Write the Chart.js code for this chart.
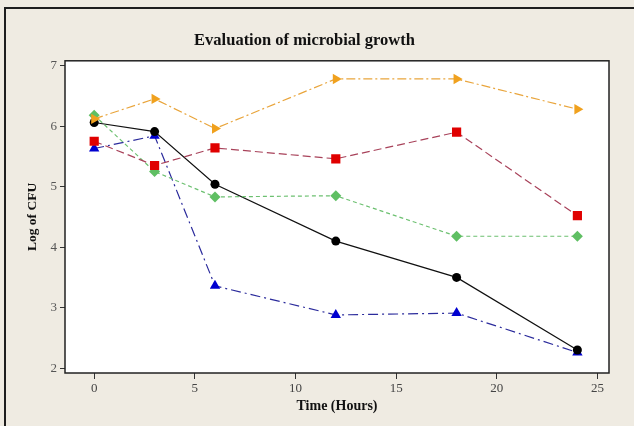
<!DOCTYPE html>
<html>
<head>
<meta charset="utf-8">
<script src="https://cdn.jsdelivr.net/npm/chart.js@4/dist/chart.umd.min.js"></script>
<style>
  body { margin: 0; background: #efebe2; overflow: hidden; }
  #wrap { position: relative; width: 634px; height: 426px; }
  #frame {
    position: absolute; left: 4px; top: 7px; width: 630px; height: 419px;
    border-top: 2px solid #1e1e1e; border-left: 2px solid #1e1e1e;
    box-sizing: border-box; pointer-events: none;
  }
</style>
</head>
<body>
<div id="wrap">
  <canvas id="growthChart" width="634" height="426"></canvas>
  <div id="frame"></div>
</div>
<script>
// sampling times (hours)
const hours = [0, 3, 6, 12, 18, 24];

// log CFU per sample
const seriesBlack = [6.06, 5.91, 5.04, 4.10, 3.50, 2.30];
const seriesOrange = [6.12, 6.45, 5.96, 6.78, 6.78, 6.28];
const seriesRed = [5.75, 5.35, 5.64, 5.46, 5.90, 4.52];
const seriesGreen = [6.18, 5.25, 4.83, 4.85, 4.18, 4.18];
const seriesBlue = [5.63, 5.84, 3.36, 2.88, 2.91, 2.26];

const xTicks = [0, 5, 10, 15, 20, 25];
const yTicks = [2, 3, 4, 5, 6, 7];

function toPoints(values) {
  return values.map((v, i) => ({ x: hours[i], y: v }));
}

// white plot area with a black frame
const plotFrame = {
  id: "plotFrame",
  beforeDatasetsDraw(chart) {
    const { ctx, chartArea: a } = chart;
    ctx.save();
    ctx.fillStyle = "#ffffff";
    ctx.fillRect(a.left, a.top, a.right - a.left, a.bottom - a.top);
    ctx.restore();
  },
  afterDatasetsDraw(chart) {
    const { ctx, chartArea: a } = chart;
    ctx.save();
    ctx.strokeStyle = "#222";
    ctx.lineWidth = 1.5;
    ctx.strokeRect(a.left, a.top, a.right - a.left, a.bottom - a.top);
    ctx.restore();
  },
};

const serif = "'Liberation Serif', 'Times New Roman', serif";

new Chart(document.getElementById("growthChart").getContext("2d"), {
  type: "line",
  data: {
    datasets: [
      {
        data: toPoints(seriesOrange),
        borderColor: "#e9a53c",
        backgroundColor: "#f0a11e",
        borderWidth: 1.2,
        borderDash: [9, 3, 2, 3],
        pointStyle: "triangle",
        rotation: 90,
        pointRadius: 6,
        pointBorderWidth: 0,
      },
      {
        data: toPoints(seriesRed),
        borderColor: "#a8425a",
        backgroundColor: "#e00000",
        borderWidth: 1.2,
        borderDash: [8, 4],
        pointStyle: "rect",
        pointRadius: 6.5,
        pointBorderWidth: 0,
      },
      {
        data: toPoints(seriesGreen),
        borderColor: "#6cc070",
        backgroundColor: "#5fbf63",
        borderWidth: 1.2,
        borderDash: [4, 3],
        pointStyle: "rectRot",
        pointRadius: 5.5,
        pointBorderWidth: 0,
      },
      {
        data: toPoints(seriesBlack),
        borderColor: "#111",
        backgroundColor: "#000",
        borderWidth: 1.2,
        pointStyle: "circle",
        pointRadius: 4.5,
        pointBorderWidth: 0,
      },
      {
        data: toPoints(seriesBlue),
        borderColor: "#2b2b9c",
        backgroundColor: "#0000d0",
        borderWidth: 1.2,
        borderDash: [10, 4, 2, 4],
        pointStyle: "triangle",
        pointRadius: 6,
        pointBorderWidth: 0,
      },
    ],
  },
  options: {
    responsive: false,
    animation: false,
    layout: { padding: { left: 0, right: 25, top: 0, bottom: 0 } },
    plugins: {
      legend: { display: false },
      tooltip: { enabled: false },
      title: {
        display: true,
        text: "Evaluation of microbial growth",
        color: "#111",
        font: { family: serif, size: 16.5, weight: "bold", lineHeight: 1.2 },
        padding: { top: 31, bottom: 10 },
      },
    },
    scales: {
      x: {
        type: "linear",
        min: -1.45,
        max: 25.57,
        afterBuildTicks(scale) {
          scale.ticks = xTicks.map((v) => ({ value: v }));
        },
        afterFit(scale) {
          scale.height = 53;
        },
        grid: { drawOnChartArea: false, drawTicks: true, tickLength: 6, color: "#333" },
        border: { display: false },
        ticks: { color: "#444", padding: 2, font: { family: serif, size: 13 } },
        title: {
          display: true,
          text: "Time (Hours)",
          color: "#111",
          font: { family: serif, size: 14, weight: "bold", lineHeight: 1.2 },
          padding: { top: 0, bottom: 11 },
        },
      },
      y: {
        min: 1.92,
        max: 7.08,
        afterBuildTicks(scale) {
          scale.ticks = yTicks.map((v) => ({ value: v }));
        },
        afterFit(scale) {
          scale.width = 65;
        },
        grid: { drawOnChartArea: false, drawTicks: true, tickLength: 5, color: "#333" },
        border: { display: false },
        ticks: { color: "#555", padding: 3, font: { family: serif, size: 13 } },
        title: {
          display: true,
          text: "Log of CFU",
          color: "#111",
          font: { family: serif, size: 13.5, weight: "bold", lineHeight: 1.2 },
          padding: { top: 24, bottom: 0 },
        },
      },
    },
  },
  plugins: [plotFrame],
});
</script>
</body>
</html>
